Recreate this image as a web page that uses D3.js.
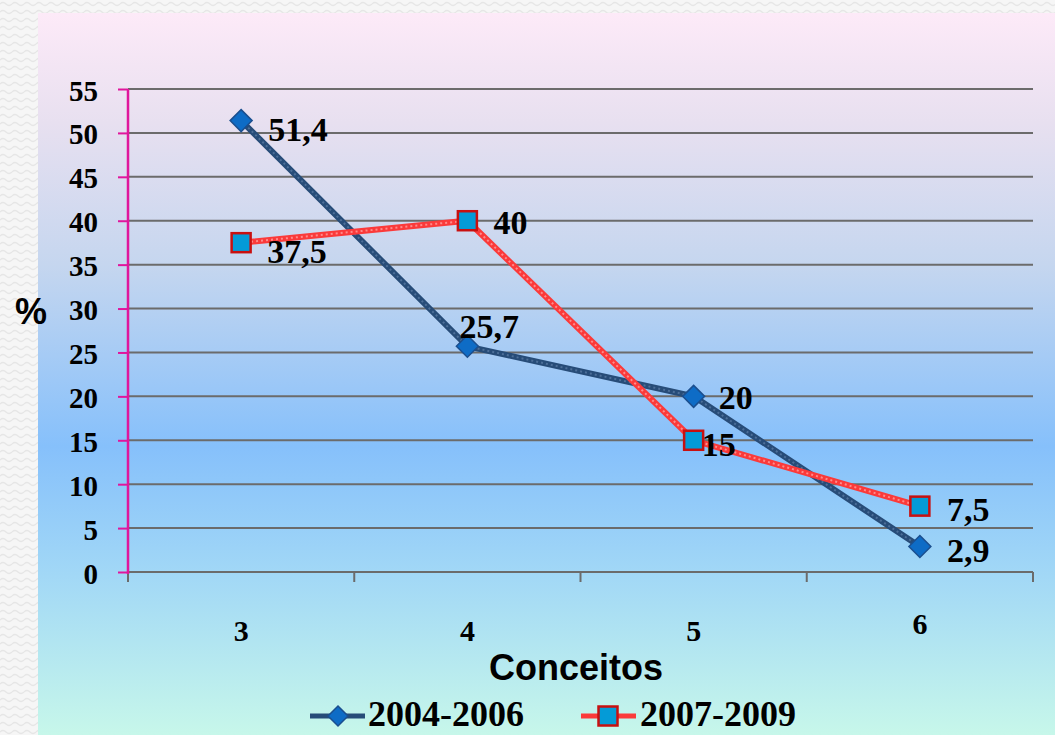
<!DOCTYPE html>
<html>
<head>
<meta charset="utf-8">
<script src="https://cdn.jsdelivr.net/npm/d3@7"></script>
<style>
  body { margin: 0; background: #f3f3f3; }
  svg { display: block; }
  .num { font-family: "Liberation Serif", "DejaVu Serif", serif; font-weight: bold; font-variant-numeric: oldstyle-nums; }
  .sans { font-family: "Liberation Sans", Arial, sans-serif; font-weight: bold; }
</style>
</head>
<body>
<svg id="chart" width="1055" height="735"></svg>
<script>
// data
var categories = ["3", "4", "5", "6"];
var series1Name = "2004-2006";
var series1 = [51.4, 25.7, 20, 2.9];
var series2Name = "2007-2009";
var series2 = [37.5, 40, 15, 7.5];
var yTicks = [0, 5, 10, 15, 20, 25, 30, 35, 40, 45, 50, 55];

var svg = d3.select("#chart");
var defs = svg.append("defs");

// wavy page pattern on the margin
var pat = defs.append("pattern").attr("id", "wave")
    .attr("width", 12).attr("height", 8).attr("patternUnits", "userSpaceOnUse");
pat.append("rect").attr("width", 12).attr("height", 8).attr("fill", "#f6f6f6");
pat.append("path").attr("d", "M0 4 Q3 1 6 4 T12 4")
    .attr("fill", "none").attr("stroke", "#e6e6e6").attr("stroke-width", 1.2);
svg.append("rect").attr("width", 1055).attr("height", 735).attr("fill", "url(#wave)");

// chart box gradient
var grad = defs.append("linearGradient").attr("id", "bg")
    .attr("x1", 0).attr("y1", 0).attr("x2", 0).attr("y2", 1);
grad.append("stop").attr("offset", "0%").attr("stop-color", "#fdeaf8");
grad.append("stop").attr("offset", "15%").attr("stop-color", "#e8e0f0");
grad.append("stop").attr("offset", "35%").attr("stop-color", "#c5d6ef");
grad.append("stop").attr("offset", "60%").attr("stop-color", "#86c0fb");
grad.append("stop").attr("offset", "78%").attr("stop-color", "#a2d8f6");
grad.append("stop").attr("offset", "100%").attr("stop-color", "#c7f7ea");
svg.append("rect").attr("x", 38).attr("y", 13).attr("width", 1017).attr("height", 722)
    .attr("fill", "url(#bg)");

var x = d3.scaleBand().domain(categories).range([128, 1033]);
var y = d3.scaleLinear().domain([0, 55]).range([572, 89]);

// gridlines
svg.append("g").selectAll("line").data(yTicks.slice(1)).join("line")
    .attr("x1", 128).attr("x2", 1033)
    .attr("y1", function (d) { return y(d); }).attr("y2", function (d) { return y(d); })
    .attr("stroke", "#6b6b6b").attr("stroke-width", 2);

// x axis
var xAxis = svg.append("g").attr("transform", "translate(0," + y(0) + ")")
    .call(d3.axisBottom(x).tickSize(0).tickFormat(""));
xAxis.select(".domain").attr("stroke", "#6b6b6b").attr("stroke-width", 2).attr("d", "M128,0H1033");
var bounds = categories.map(function (c) { return x(c); }).concat([x.range()[1]]);
xAxis.selectAll(".bt").data(bounds).join("line").attr("class", "bt")
    .attr("x1", function (d) { return d; }).attr("x2", function (d) { return d; })
    .attr("y1", 0).attr("y2", 10).attr("stroke", "#6b6b6b").attr("stroke-width", 2);
svg.append("g").selectAll("text").data(categories).join("text")
    .attr("class", "num")
    .attr("x", function (d) { return x(d) + x.bandwidth() / 2; })
    .attr("y", function (d) { return d === "6" ? 634 : 641; })
    .attr("text-anchor", "middle").attr("font-size", 30).attr("fill", "#000")
    .text(function (d) { return d; });

// y axis
var yAxis = svg.append("g").attr("transform", "translate(128,0)")
    .call(d3.axisLeft(y).tickValues(yTicks).tickSize(10).tickPadding(20).tickFormat(d3.format("d")));
yAxis.select(".domain").attr("stroke", "#e0169c").attr("stroke-width", 2.5).attr("d", "M0,89V574");
yAxis.selectAll(".tick line").attr("stroke", "#e0169c").attr("stroke-width", 2);
yAxis.selectAll(".tick text").attr("class", "num").attr("font-size", 29).attr("fill", "#000")
    .attr("dy", "0.38em");

// axis titles
svg.append("text").attr("class", "sans").attr("x", 31).attr("y", 324)
    .attr("text-anchor", "middle").attr("font-size", 36).text("%");
svg.append("text").attr("class", "sans").attr("x", 576).attr("y", 680)
    .attr("text-anchor", "middle").attr("font-size", 36).text("Conceitos");

var line = d3.line()
    .x(function (d, i) { return x(categories[i]) + x.bandwidth() / 2; })
    .y(function (d) { return y(d); });

function diamond(g, cx, cy, s) {
    g.append("path")
        .attr("d", "M" + cx + "," + (cy - s) + "L" + (cx + s) + "," + cy + "L" + cx + "," + (cy + s) + "L" + (cx - s) + "," + cy + "Z")
        .attr("fill", "#0e6cc6").attr("stroke", "#1b4f8f").attr("stroke-width", 1.5);
}
function square(g, cx, cy, s) {
    g.append("rect").attr("x", cx - s).attr("y", cy - s).attr("width", 2 * s).attr("height", 2 * s)
        .attr("fill", "#049bd7").attr("stroke", "#c81010").attr("stroke-width", 2.5);
}

// series 1 line
svg.append("path").datum(series1).attr("d", line)
    .attr("fill", "none").attr("stroke", "#274c78").attr("stroke-width", 6);
svg.append("path").datum(series1).attr("d", line)
    .attr("fill", "none").attr("stroke", "#4d6f99").attr("stroke-width", 2).attr("stroke-dasharray", "2,3");
// series 2 line
svg.append("path").datum(series2).attr("d", line)
    .attr("fill", "none").attr("stroke", "#fb3a3a").attr("stroke-width", 6);
svg.append("path").datum(series2).attr("d", line)
    .attr("fill", "none").attr("stroke", "#ff8a8a").attr("stroke-width", 2).attr("stroke-dasharray", "2,3");

var mk = svg.append("g");
series1.forEach(function (v, i) { diamond(mk, x(categories[i]) + x.bandwidth() / 2, y(v), 11); });
series2.forEach(function (v, i) { square(mk, x(categories[i]) + x.bandwidth() / 2, y(v), 9.5); });

// data labels (offsets from the point)
var fmt = function (v) { return String(v).replace(".", ","); };
var off1 = [[27, 20], [-8, -8], [25, 13], [27, 15]];
var off2 = [[26, 20], [26, 13], [8, 16], [27, 15]];
var lab = svg.append("g").attr("class", "num").attr("font-size", 34).attr("fill", "#000");
series1.forEach(function (v, i) {
    lab.append("text")
        .attr("x", x(categories[i]) + x.bandwidth() / 2 + off1[i][0])
        .attr("y", y(v) + off1[i][1]).text(fmt(v));
});
series2.forEach(function (v, i) {
    lab.append("text")
        .attr("x", x(categories[i]) + x.bandwidth() / 2 + off2[i][0])
        .attr("y", y(v) + off2[i][1]).text(fmt(v));
});

// legend
var lg = svg.append("g");
lg.append("line").attr("x1", 310).attr("x2", 365).attr("y1", 716).attr("y2", 716)
    .attr("stroke", "#274c78").attr("stroke-width", 5);
diamond(lg, 338, 716, 10);
lg.append("text").attr("class", "num").attr("x", 368).attr("y", 726).attr("font-size", 36).text(series1Name);
lg.append("line").attr("x1", 581).attr("x2", 636).attr("y1", 716).attr("y2", 716)
    .attr("stroke", "#fb3a3a").attr("stroke-width", 5);
square(lg, 608, 716, 9.5);
lg.append("text").attr("class", "num").attr("x", 640).attr("y", 726).attr("font-size", 36).text(series2Name);
</script>
</body>
</html>
